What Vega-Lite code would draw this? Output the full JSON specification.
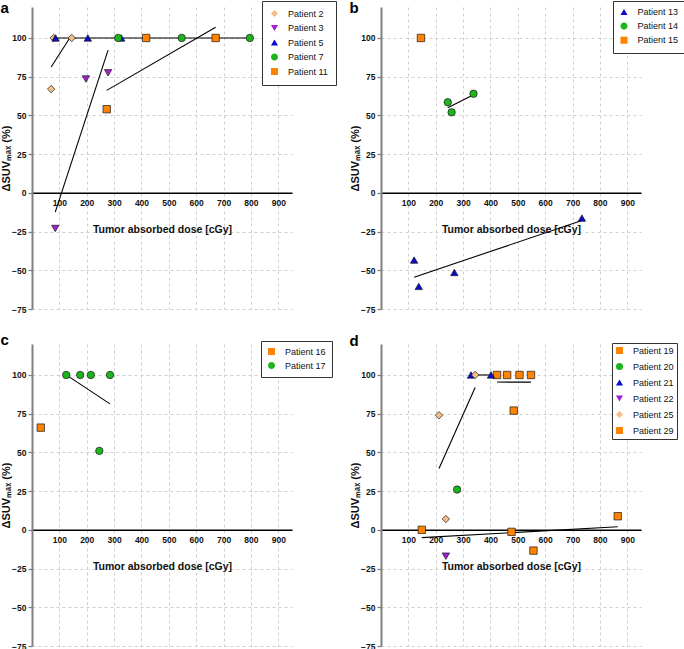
{
  "$schema": "https://vega.github.io/schema/vega-lite/v6.json",
  "padding": {"left": 0, "top": 0, "right": 0, "bottom": 0},
  "background": "white",
  "config": {
    "font": "Liberation Sans",
    "view": {"stroke": null},
    "axis": {
      "labelFont": "Liberation Sans", "labelFontSize": 8.5, "labelFontWeight": "bold", "labelColor": "#111",
      "titleFont": "Liberation Sans", "titleFontSize": 10.5, "titleFontWeight": "bold", "titleColor": "#111",
      "gridDash": [3, 3], "gridColor": "#cfcfcf", "gridWidth": 1
    },
    "legend": {
      "labelFont": "Liberation Sans", "labelFontSize": 9, "labelColor": "#111",
      "strokeColor": "#333", "fillColor": "white", "symbolStrokeColor": "#1a1a1a", "symbolStrokeWidth": 0.9,
      "symbolOpacity": 1, "symbolSize": 50, "labelOffset": 9, "orient": "none"
    },
    "title": {"font": "Liberation Sans", "fontSize": 15, "fontWeight": "bold", "color": "#000", "anchor": "start", "frame": "bounds"}
  },
  "datasets": {
    "a": [
      {"patient": "Patient 2", "dose": 70, "suv": 67},
      {"patient": "Patient 2", "dose": 79, "suv": 100},
      {"patient": "Patient 2", "dose": 145, "suv": 100},
      {"patient": "Patient 3", "dose": 85, "suv": -23},
      {"patient": "Patient 3", "dose": 197, "suv": 73.5},
      {"patient": "Patient 3", "dose": 278, "suv": 77.5},
      {"patient": "Patient 5", "dose": 86, "suv": 100},
      {"patient": "Patient 5", "dose": 204, "suv": 100},
      {"patient": "Patient 5", "dose": 326, "suv": 100},
      {"patient": "Patient 7", "dose": 315, "suv": 100},
      {"patient": "Patient 7", "dose": 547, "suv": 100},
      {"patient": "Patient 7", "dose": 796, "suv": 100},
      {"patient": "Patient 11", "dose": 273, "suv": 54},
      {"patient": "Patient 11", "dose": 417, "suv": 100},
      {"patient": "Patient 11", "dose": 671, "suv": 100}
    ],
    "b": [
      {"patient": "Patient 13", "dose": 121, "suv": -43.4},
      {"patient": "Patient 13", "dose": 138, "suv": -60.4},
      {"patient": "Patient 13", "dose": 268, "suv": -51.4},
      {"patient": "Patient 13", "dose": 734, "suv": -16.3},
      {"patient": "Patient 14", "dose": 244, "suv": 58.5},
      {"patient": "Patient 14", "dose": 258, "suv": 52},
      {"patient": "Patient 14", "dose": 338, "suv": 64},
      {"patient": "Patient 15", "dose": 146, "suv": 100}
    ],
    "c": [
      {"patient": "Patient 16", "dose": 32, "suv": 66},
      {"patient": "Patient 17", "dose": 125, "suv": 100},
      {"patient": "Patient 17", "dose": 176, "suv": 100},
      {"patient": "Patient 17", "dose": 215, "suv": 100},
      {"patient": "Patient 17", "dose": 246, "suv": 51},
      {"patient": "Patient 17", "dose": 285, "suv": 100}
    ],
    "d": [
      {"patient": "Patient 19", "dose": 424, "suv": 100},
      {"patient": "Patient 19", "dose": 461, "suv": 100},
      {"patient": "Patient 19", "dose": 485, "suv": 77},
      {"patient": "Patient 19", "dose": 506, "suv": 100},
      {"patient": "Patient 19", "dose": 548, "suv": 100},
      {"patient": "Patient 20", "dose": 278, "suv": 26},
      {"patient": "Patient 21", "dose": 329, "suv": 100},
      {"patient": "Patient 21", "dose": 402, "suv": 100},
      {"patient": "Patient 22", "dose": 237, "suv": -17},
      {"patient": "Patient 25", "dose": 212, "suv": 74},
      {"patient": "Patient 25", "dose": 237, "suv": 7},
      {"patient": "Patient 25", "dose": 344, "suv": 100},
      {"patient": "Patient 29", "dose": 149, "suv": 0},
      {"patient": "Patient 29", "dose": 477, "suv": -1.3},
      {"patient": "Patient 29", "dose": 557, "suv": -13.4},
      {"patient": "Patient 29", "dose": 865, "suv": 8.8}
    ]
  },
  "columns": 2,
  "spacing": {"row": 35, "column": 89},
  "bounds": "flush",
  "resolve": {
    "scale": {"x": "independent", "y": "independent", "color": "independent", "shape": "independent"},
    "legend": {"color": "independent", "shape": "independent"}
  },
  "concat": [
    {
      "width": 260, "height": 302,
      "title": {"text": "a", "offset": -15},
      "data": {"name": "a"},
      "resolve": {"scale": {"shape": "independent"}, "legend": {"color": "independent", "shape": "independent"}},
      "encoding": {
        "x": {"field": "dose", "type": "quantitative", "scale": {"domain": [0, 950], "nice": false, "zero": false},
          "axis": {"title": "Tumor absorbed dose [cGy]", "values": [100, 200, 300, 400, 500, 600, 700, 800, 900], "offset": -116.2, "domainColor": "#000", "domainWidth": 1.5, "ticks": false, "tickSize": 0, "labelPadding": 6, "titlePadding": 17, "grid": true}},
        "y": {"field": "suv", "type": "quantitative", "scale": {"domain": [-75, 120], "nice": false, "zero": false},
          "axis": {"title": "ΔSUVₘₐₓ (%)", "titleFontSize": 11, "values": [-75, -50, -25, 0, 25, 50, 75, 100], "domainColor": "#808080", "domainWidth": 2, "tickColor": "#808080", "tickSize": 4, "tickWidth": 1.3, "labelPadding": 2, "titlePadding": 0, "grid": true}}
      },
      "layer": [
        {
          "transform": [
            {"filter": {"field": "patient", "oneOf": ["Patient 2", "Patient 3", "Patient 5", "Patient 7", "Patient 11"]}},
            {"regression": "suv", "on": "dose", "groupby": ["patient"]}
          ],
          "mark": {"type": "line", "color": "#000", "strokeWidth": 1.1},
          "encoding": {"detail": {"field": "patient", "type": "nominal"}}
        },
        {
          "mark": {"type": "point", "filled": true, "size": 55, "stroke": "#1a1a1a", "strokeWidth": 0.7, "opacity": 1},
          "encoding": {
            "color": {"field": "patient", "type": "nominal", "legend": null,
              "scale": {"domain": ["Patient 2", "Patient 3", "Patient 5", "Patient 7", "Patient 11"], "range": ["#F7BE84", "#A21FD0", "#0A0ACF", "#1DB51D", "#FF8200"]}},
            "shape": {"field": "patient", "type": "nominal", "legend": null,
              "scale": {"domain": ["Patient 11", "Patient 7", "Patient 5", "Patient 3", "Patient 2"], "range": ["square", "circle", "triangle-up", "triangle-down", "diamond"]}}
          }
        },
        {
          "mark": {"type": "point", "filled": true, "stroke": "#1a1a1a", "strokeWidth": 0.9, "opacity": 0},
          "encoding": {
            "color": {"field": "patient", "type": "nominal",
              "legend": {"title": null, "legendX": 230, "legendY": -6, "padding": 8, "rowPadding": 3.5}},
            "shape": {"field": "patient", "type": "nominal",
              "scale": {"domain": ["Patient 2", "Patient 3", "Patient 5", "Patient 7", "Patient 11"], "range": ["M-1.6,0H-1M1,0H1.6M-1,0L0,-1L1,0L0,1Z", "M-1.6,0H-0.5M0.5,0H1.6M0,0.866L1,-0.866H-1Z", "M-1.6,0H-0.5M0.5,0H1.6M0,-0.866L1,0.866H-1Z", "M-1.6,0H-1M1,0H1.6M1,0A1,1,0,1,1,-1,0A1,1,0,1,1,1,0Z", "M-1.6,0H-1M1,0H1.6M-1,-1H1V1H-1Z"]},
              "legend": {"title": null, "legendX": 230, "legendY": -6, "padding": 8, "rowPadding": 3.5}}
          }
        }
      ]
    },
    {
      "width": 260, "height": 302,
      "title": {"text": "b", "offset": -15},
      "data": {"name": "b"},
      "resolve": {"scale": {"shape": "independent"}, "legend": {"color": "independent", "shape": "independent"}},
      "encoding": {
        "x": {"field": "dose", "type": "quantitative", "scale": {"domain": [0, 950], "nice": false, "zero": false},
          "axis": {"title": "Tumor absorbed dose [cGy]", "values": [100, 200, 300, 400, 500, 600, 700, 800, 900], "offset": -116.2, "domainColor": "#000", "domainWidth": 1.5, "ticks": false, "tickSize": 0, "labelPadding": 6, "titlePadding": 17, "grid": true}},
        "y": {"field": "suv", "type": "quantitative", "scale": {"domain": [-75, 120], "nice": false, "zero": false},
          "axis": {"title": "ΔSUVₘₐₓ (%)", "titleFontSize": 11, "values": [-75, -50, -25, 0, 25, 50, 75, 100], "domainColor": "#808080", "domainWidth": 2, "tickColor": "#808080", "tickSize": 4, "tickWidth": 1.3, "labelPadding": 2, "titlePadding": 0, "grid": true}}
      },
      "layer": [
        {
          "transform": [
            {"filter": {"field": "patient", "oneOf": ["Patient 13", "Patient 14"]}},
            {"regression": "suv", "on": "dose", "groupby": ["patient"]}
          ],
          "mark": {"type": "line", "color": "#000", "strokeWidth": 1.1},
          "encoding": {"detail": {"field": "patient", "type": "nominal"}}
        },
        {
          "mark": {"type": "point", "filled": true, "size": 55, "stroke": "#1a1a1a", "strokeWidth": 0.7, "opacity": 1},
          "encoding": {
            "color": {"field": "patient", "type": "nominal", "legend": null,
              "scale": {"domain": ["Patient 13", "Patient 14", "Patient 15"], "range": ["#0A0ACF", "#1DB51D", "#FF8200"]}},
            "shape": {"field": "patient", "type": "nominal", "legend": null,
              "scale": {"domain": ["Patient 15", "Patient 14", "Patient 13"], "range": ["square", "circle", "triangle-up"]}}
          }
        },
        {
          "mark": {"type": "point", "filled": true, "stroke": "#1a1a1a", "strokeWidth": 0.9, "opacity": 0},
          "encoding": {
            "color": {"field": "patient", "type": "nominal",
              "legend": {"title": null, "legendX": 232, "legendY": -6, "padding": 6.5, "rowPadding": 3.1}},
            "shape": {"field": "patient", "type": "nominal",
              "scale": {"domain": ["Patient 13", "Patient 14", "Patient 15"], "range": ["M-1.6,0H-0.5M0.5,0H1.6M0,-0.866L1,0.866H-1Z", "M-1.6,0H-1M1,0H1.6M1,0A1,1,0,1,1,-1,0A1,1,0,1,1,1,0Z", "square"]},
              "legend": {"title": null, "legendX": 232, "legendY": -6, "padding": 6.5, "rowPadding": 3.1}}
          }
        }
      ]
    },
    {
      "width": 260, "height": 302,
      "title": {"text": "c", "offset": -7},
      "data": {"name": "c"},
      "resolve": {"scale": {"shape": "independent"}, "legend": {"color": "independent", "shape": "independent"}},
      "encoding": {
        "x": {"field": "dose", "type": "quantitative", "scale": {"domain": [0, 950], "nice": false, "zero": false},
          "axis": {"title": "Tumor absorbed dose [cGy]", "values": [100, 200, 300, 400, 500, 600, 700, 800, 900], "offset": -116.2, "domainColor": "#000", "domainWidth": 1.5, "ticks": false, "tickSize": 0, "labelPadding": 6, "titlePadding": 17, "grid": true}},
        "y": {"field": "suv", "type": "quantitative", "scale": {"domain": [-75, 120], "nice": false, "zero": false},
          "axis": {"title": "ΔSUVₘₐₓ (%)", "titleFontSize": 11, "values": [-75, -50, -25, 0, 25, 50, 75, 100], "domainColor": "#808080", "domainWidth": 2, "tickColor": "#808080", "tickSize": 4, "tickWidth": 1.3, "labelPadding": 2, "titlePadding": 0, "grid": true}}
      },
      "layer": [
        {
          "transform": [
            {"filter": {"field": "patient", "oneOf": ["Patient 17"]}},
            {"regression": "suv", "on": "dose", "groupby": ["patient"]}
          ],
          "mark": {"type": "line", "color": "#000", "strokeWidth": 1.1},
          "encoding": {"detail": {"field": "patient", "type": "nominal"}}
        },
        {
          "mark": {"type": "point", "filled": true, "size": 55, "stroke": "#1a1a1a", "strokeWidth": 0.7, "opacity": 1},
          "encoding": {
            "color": {"field": "patient", "type": "nominal", "legend": null,
              "scale": {"domain": ["Patient 16", "Patient 17"], "range": ["#FF8200", "#1DB51D"]}},
            "shape": {"field": "patient", "type": "nominal", "legend": null,
              "scale": {"domain": ["Patient 17", "Patient 16"], "range": ["circle", "square"]}}
          }
        },
        {
          "mark": {"type": "point", "filled": true, "stroke": "#1a1a1a", "strokeWidth": 0.9, "opacity": 0},
          "encoding": {
            "color": {"field": "patient", "type": "nominal",
              "legend": {"title": null, "legendX": 229, "legendY": -3, "padding": 6, "rowPadding": 3}},
            "shape": {"field": "patient", "type": "nominal",
              "scale": {"domain": ["Patient 16", "Patient 17"], "range": ["square", "M-1.6,0H-1M1,0H1.6M1,0A1,1,0,1,1,-1,0A1,1,0,1,1,1,0Z"]},
              "legend": {"title": null, "legendX": 229, "legendY": -3, "padding": 6, "rowPadding": 3}}
          }
        }
      ]
    },
    {
      "width": 260, "height": 302,
      "title": {"text": "d", "offset": -6},
      "data": {"name": "d"},
      "resolve": {"scale": {"shape": "independent"}, "legend": {"color": "independent", "shape": "independent"}},
      "encoding": {
        "x": {"field": "dose", "type": "quantitative", "scale": {"domain": [0, 950], "nice": false, "zero": false},
          "axis": {"title": "Tumor absorbed dose [cGy]", "values": [100, 200, 300, 400, 500, 600, 700, 800, 900], "offset": -116.2, "domainColor": "#000", "domainWidth": 1.5, "ticks": false, "tickSize": 0, "labelPadding": 6, "titlePadding": 17, "grid": true}},
        "y": {"field": "suv", "type": "quantitative", "scale": {"domain": [-75, 120], "nice": false, "zero": false},
          "axis": {"title": "ΔSUVₘₐₓ (%)", "titleFontSize": 11, "values": [-75, -50, -25, 0, 25, 50, 75, 100], "domainColor": "#808080", "domainWidth": 2, "tickColor": "#808080", "tickSize": 4, "tickWidth": 1.3, "labelPadding": 2, "titlePadding": 0, "grid": true}}
      },
      "layer": [
        {
          "transform": [
            {"filter": {"field": "patient", "oneOf": ["Patient 19", "Patient 21", "Patient 25", "Patient 29"]}},
            {"regression": "suv", "on": "dose", "groupby": ["patient"]}
          ],
          "mark": {"type": "line", "color": "#000", "strokeWidth": 1.1},
          "encoding": {"detail": {"field": "patient", "type": "nominal"}}
        },
        {
          "mark": {"type": "point", "filled": true, "size": 55, "stroke": "#1a1a1a", "strokeWidth": 0.7, "opacity": 1},
          "encoding": {
            "color": {"field": "patient", "type": "nominal", "legend": null,
              "scale": {"domain": ["Patient 19", "Patient 20", "Patient 21", "Patient 22", "Patient 25", "Patient 29"], "range": ["#FF8200", "#1DB51D", "#0A0ACF", "#A21FD0", "#F7BE84", "#FF8200"]}},
            "shape": {"field": "patient", "type": "nominal", "legend": null,
              "scale": {"domain": ["Patient 29", "Patient 25", "Patient 22", "Patient 21", "Patient 20", "Patient 19"], "range": ["square", "diamond", "triangle-down", "triangle-up", "circle", "square"]}}
          }
        },
        {
          "mark": {"type": "point", "filled": true, "stroke": "#1a1a1a", "strokeWidth": 0.9, "opacity": 0},
          "encoding": {
            "color": {"field": "patient", "type": "nominal",
              "legend": {"title": null, "legendX": 231, "legendY": -1, "padding": 3, "rowPadding": 5}},
            "shape": {"field": "patient", "type": "nominal",
              "scale": {"domain": ["Patient 19", "Patient 20", "Patient 21", "Patient 22", "Patient 25", "Patient 29"], "range": ["M-1.6,0H-1M1,0H1.6M-1,-1H1V1H-1Z", "circle", "M-1.6,0H-0.5M0.5,0H1.6M0,-0.866L1,0.866H-1Z", "triangle-down", "M-1.6,0H-1M1,0H1.6M-1,0L0,-1L1,0L0,1Z", "M-1.6,0H-1M1,0H1.6M-1,-1H1V1H-1Z"]},
              "legend": {"title": null, "legendX": 231, "legendY": -1, "padding": 3, "rowPadding": 5}}
          }
        }
      ]
    }
  ]
}
